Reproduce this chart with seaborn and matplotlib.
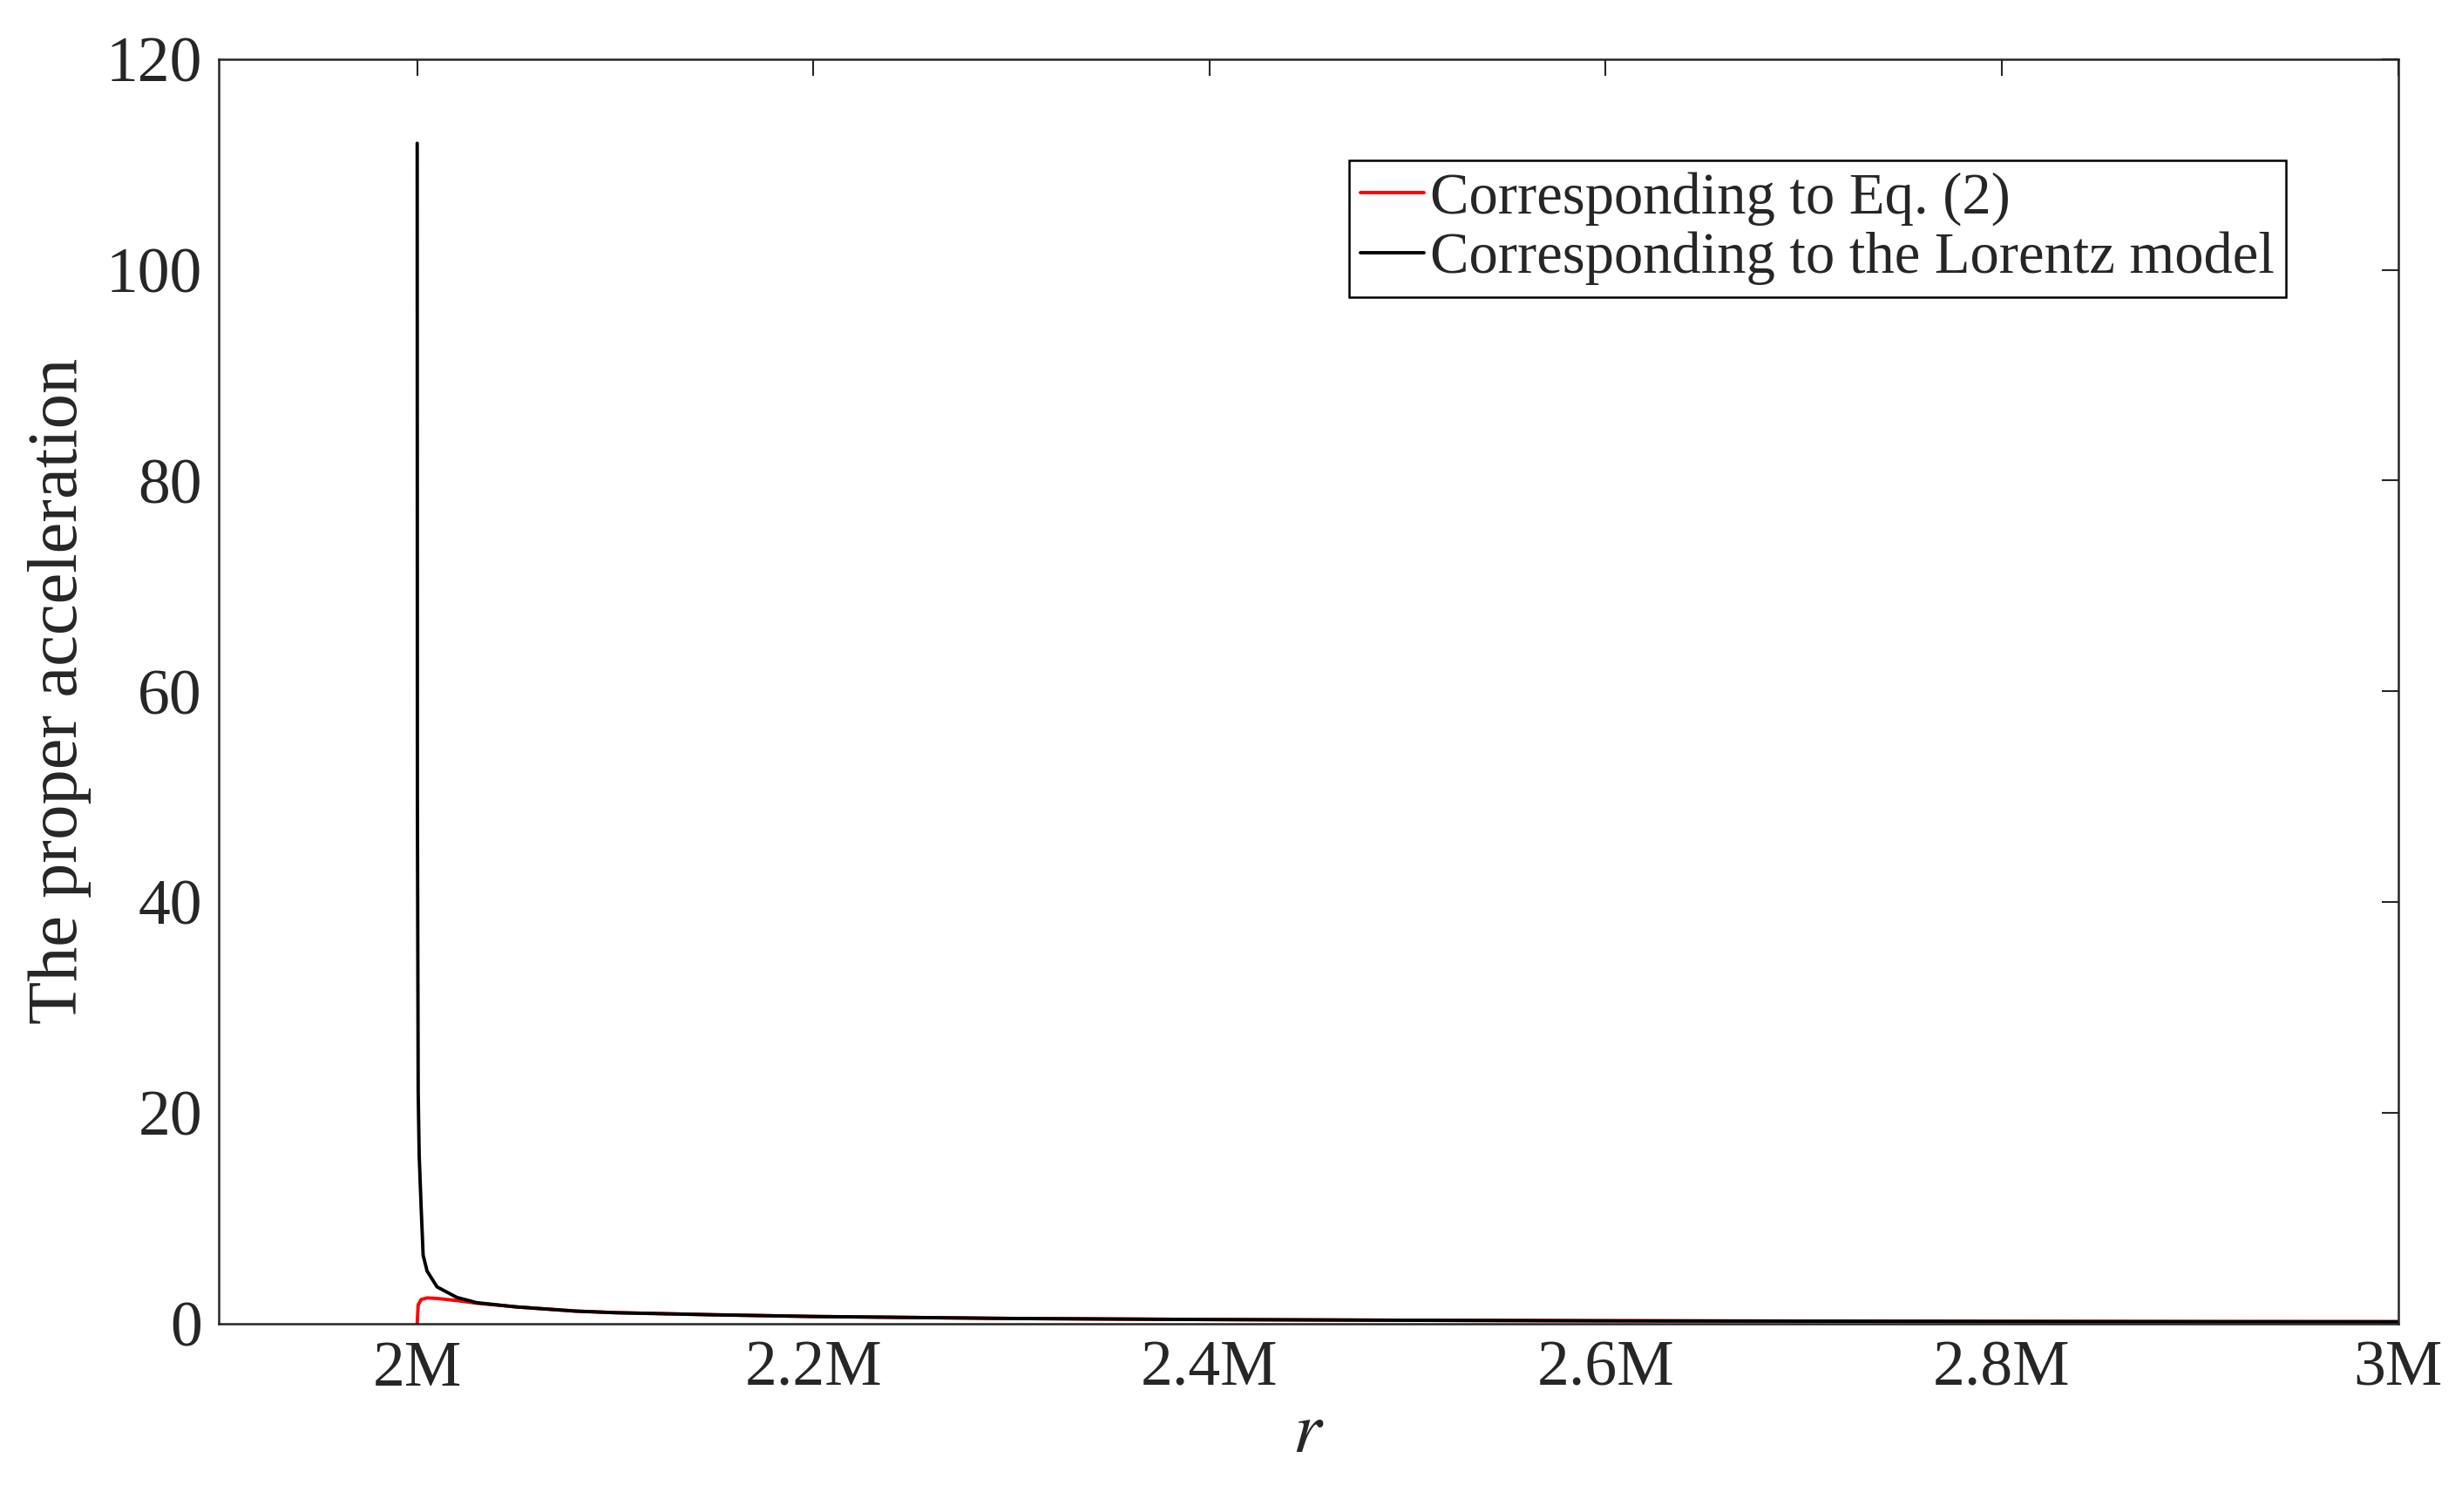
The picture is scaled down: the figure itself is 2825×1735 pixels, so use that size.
import pandas as pd
import matplotlib
matplotlib.use("Agg")
import matplotlib.pyplot as plt
import seaborn as sns

# values
r_black = [2.0, 2.0001, 2.0005, 2.001, 2.002, 2.003, 2.005, 2.01, 2.02, 2.03, 2.05, 2.08,
           2.1, 2.15, 2.2, 2.3, 2.4, 2.5, 2.6, 2.7, 2.8, 2.9, 3.0]
a_black = [112, 50, 22, 16, 11, 6.5, 5.0, 3.5, 2.5, 2.0, 1.6, 1.2,
           1.05, 0.85, 0.69, 0.5, 0.4, 0.33, 0.28, 0.25, 0.22, 0.2, 0.19]
r_red = [2.0, 2.0005, 2.002, 2.005, 2.01, 2.02, 2.03, 2.05, 2.08,
         2.1, 2.15, 2.2, 2.3, 2.4, 2.5, 2.6, 2.7, 2.8, 2.9, 3.0]
a_red = [0, 1.8, 2.3, 2.45, 2.4, 2.2, 1.95, 1.6, 1.2,
         1.05, 0.85, 0.69, 0.5, 0.4, 0.33, 0.28, 0.25, 0.22, 0.2, 0.19]
labels = ["Corresponding to Eq. (2)", "Corresponding to the Lorentz model"]
xticks = [2.0, 2.2, 2.4, 2.6, 2.8, 3.0]
xtick_labels = ["2M", "2.2M", "2.4M", "2.6M", "2.8M", "3M"]

data = pd.concat([
    pd.DataFrame({"r": r_red, "acc": a_red, "curve": labels[0]}),
    pd.DataFrame({"r": r_black, "acc": a_black, "curve": labels[1]}),
])

sns.set_theme(style="white")
plt.rcParams["font.family"] = ["Liberation Serif", "DejaVu Serif"]
plt.rcParams["mathtext.fontset"] = "stix"

fig = plt.figure(figsize=(28.25, 17.35), dpi=100)
ax = fig.add_axes([0.089, 0.1245, 0.885, 0.8365])
sns.lineplot(data=data, x="r", y="acc", hue="curve", palette=["#ff0000", "#000000"],
             linewidth=2.8, sort=False, estimator=None, ax=ax)

ax.set_xlim(1.9, 3.0)
ax.set_ylim(0, 120)
ax.set_xticks(xticks)
ax.set_xticklabels(xtick_labels)
ax.set_yticks(range(0, 121, 20))
ax.tick_params(direction="in", length=14, width=1.5, labelsize=53, top=True, right=True,
               colors="#262626", pad=14)
for s in ax.spines.values():
    s.set_color("#262626")
    s.set_linewidth(1.8)
ax.set_xlabel("$r$", fontsize=60, labelpad=2)
ax.set_ylabel("The proper acceleration", fontsize=58, labelpad=12)

leg = ax.legend(loc="upper right", bbox_to_anchor=(0.962, 0.943), fontsize=48,
                handlelength=1.1, handletextpad=0.1, borderpad=0.2, labelspacing=0.1,
                fancybox=False, framealpha=1, edgecolor="black", title=None)
leg.get_frame().set_linewidth(1.8)

fig.savefig("out.png", dpi=100)
